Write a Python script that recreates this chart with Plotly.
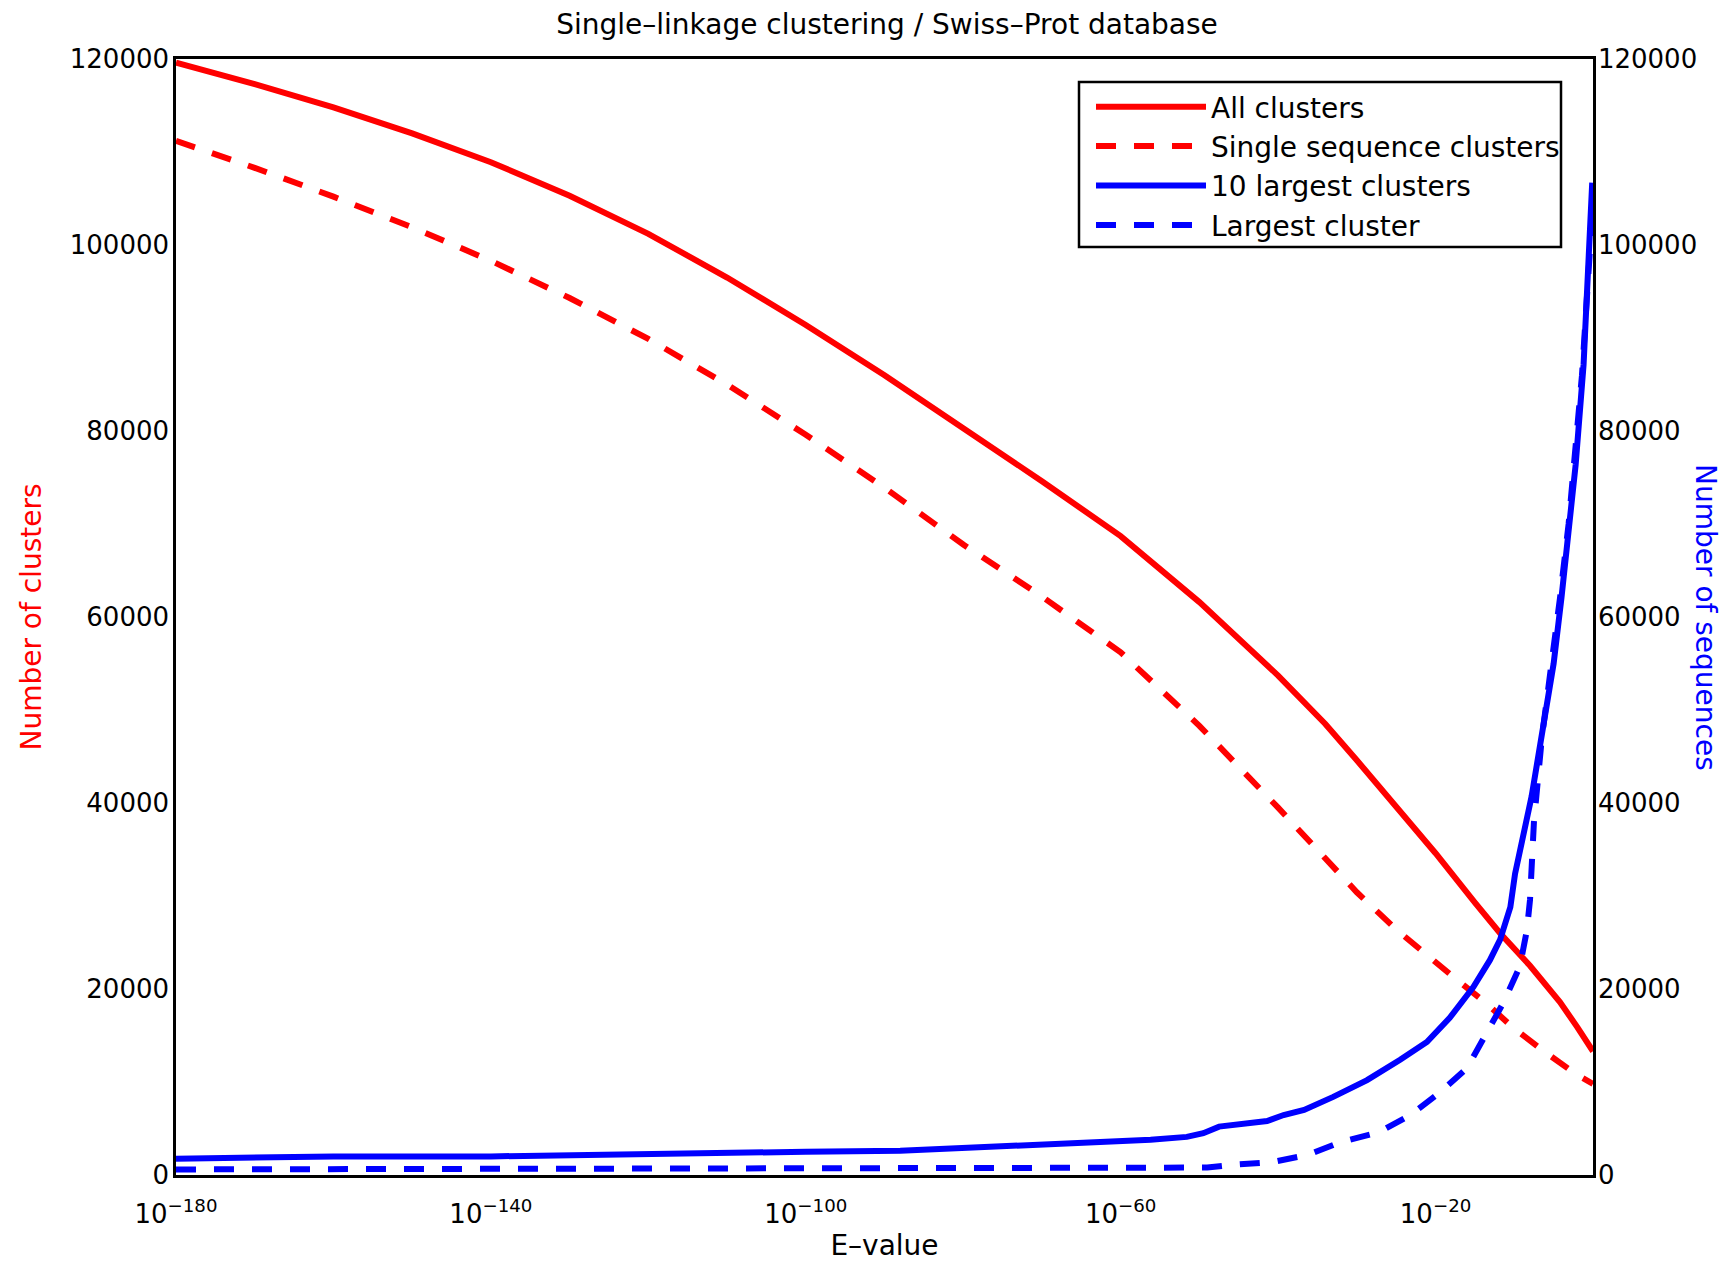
import plotly.graph_objects as go

# ---- data; E-values given as log10 exponents ----
# All clusters (left axis)
log_e_all = [-180, -170, -160, -150, -140, -130, -120, -110, -100, -90, -80, -70,
             -60, -50, -40, -34, -30, -20, -15, -11.8, -8, -4.2, -2.0, -0.4, 0]
all_clusters = [119600, 117300, 114800, 112000, 108900, 105300, 101200, 96500, 91400, 86000, 80300, 74600,
                68700, 61600, 53700, 48500, 44600, 34600, 29300, 26000, 22500, 18600, 15900, 13800, 13300]

# Single sequence clusters (left axis)
log_e_single = [-180, -170, -160, -150, -140, -130, -120, -110, -100, -90, -80, -70,
                -60, -50, -40, -34, -30, -25, -20.8, -17.3, -13.6, -10.1, -5.9, -2.0, 0]
single_clusters = [111200, 108300, 105200, 101900, 98300, 94300, 89900, 85000, 79600, 73900, 67800, 62200,
                   56200, 48300, 39500, 34000, 30400, 26400, 23400, 21000, 18500, 15800, 13100, 10750, 9800]

# 10 largest clusters (right axis)
log_e_top10 = [-180, -171.5, -160, -140, -127.5, -110, -100, -88, -76.8, -66.4,
               -56.2, -51.6, -49.5, -47.5, -44.8, -41.4, -39.3, -36.7, -33.0, -28.7,
               -24.5, -21.1, -18.2, -15.2, -13.1, -11.8, -10.5, -9.9, -7.8, -6.4,
               -5.0, -4.0, -2.9, -2.2, -1.2, -0.7, -0.1]
top10_sequences = [1750, 1900, 2000, 2000, 2200, 2400, 2500, 2600, 3000, 3400,
                   3800, 4100, 4500, 5200, 5400, 5800, 6450, 7000, 8400, 10200,
                   12400, 14300, 16900, 20200, 23100, 25300, 28800, 32400, 40700, 47900,
                   55000, 62100, 70500, 76400, 87100, 95500, 106700]

# Largest cluster (right axis)
log_e_largest = [-180, -131, -88, -49, -46, -40.7, -36.3, -32.0, -27.2, -23.2,
                 -19.4, -16.0, -13.5, -11.4, -9.3, -8.4, -8.0, -7.5, -6.5, -5.2,
                 -4.2, -3.1, -2.2, -1.4, -0.8, -0.2]
largest_sequences = [600, 650, 700, 800, 1080, 1400, 2150, 3550, 4600, 6450,
                     8900, 11500, 15300, 18500, 22400, 26300, 29600, 38000, 47000, 55000,
                     62000, 70000, 78000, 86000, 94000, 102000]

x_tick_exponents = [-180, -140, -100, -60, -20]
x_ticktext = ["10<sup>\u2212180</sup>", "10<sup>\u2212140</sup>", "10<sup>\u2212100</sup>",
              "10<sup>\u221260</sup>", "10<sup>\u221220</sup>"]
y_tickvals = [0, 20000, 40000, 60000, 80000, 100000, 120000]


def to_evalue(exps):
    return [10.0 ** e for e in exps]


RED = "#FF0000"
BLUE = "#0000FF"
DASH = "20px,18px"
LW = 6
FONT = "DejaVu Sans, Verdana, sans-serif"

# page body has an 8 px margin; the figure is sized so the plot box lands at
# x 176..1593, y 59..1175 of the 1734x1270 window
OFF = 8
W, H = 1734 - 2 * OFF, 1270 - 2 * OFF
ML, MR, MT, MB = 176 - OFF, W - (1593 - OFF), 59 - OFF, H - (1175 - OFF)
PX0, PX1, PY0, PY1 = 176, 1593, 59, 1175   # plot box in window pixels


def px_x(x):
    return (x - PX0) / (PX1 - PX0)


def px_y(y):
    return (PY1 - y) / (PY1 - PY0)


fig = go.Figure()
fig.add_trace(go.Scatter(x=to_evalue(log_e_all), y=all_clusters, name="All clusters", mode="lines",
                         line=dict(color=RED, width=LW)))
fig.add_trace(go.Scatter(x=to_evalue(log_e_single), y=single_clusters, name="Single sequence clusters",
                         mode="lines", line=dict(color=RED, width=LW, dash=DASH)))
fig.add_trace(go.Scatter(x=to_evalue(log_e_top10), y=top10_sequences, name="10 largest clusters",
                         mode="lines", line=dict(color=BLUE, width=LW), yaxis="y2"))
fig.add_trace(go.Scatter(x=to_evalue(log_e_largest), y=largest_sequences, name="Largest cluster",
                         mode="lines", line=dict(color=BLUE, width=LW, dash=DASH), yaxis="y2"))

axis_common = dict(showline=True, linecolor="black", linewidth=2.5, showgrid=False, zeroline=False,
                   ticks="", ticklen=0, tickfont=dict(family=FONT, size=26, color="black"))

fig.update_layout(
    width=W, height=H,
    margin=dict(l=ML, r=MR, t=MT, b=MB, autoexpand=False),
    plot_bgcolor="white", paper_bgcolor="white",
    font=dict(family=FONT, size=28, color="black"),
    title=dict(text="Single\u2013linkage clustering / Swiss\u2013Prot database",
               x=(887 - OFF) / W, xanchor="center", xref="container",
               y=1 - (24 - OFF) / H, yanchor="middle", yref="container",
               font=dict(family=FONT, size=28, color="black")),
    xaxis=dict(type="log", range=[-180, 0], tickvals=to_evalue(x_tick_exponents), ticktext=x_ticktext,
               mirror=True, ticklabelstandoff=14,
               title=dict(text="E\u2013value", font=dict(family=FONT, size=28, color="black"), standoff=21),
               **axis_common),
    yaxis=dict(range=[0, 120000], tickvals=y_tickvals, tickformat="d", mirror=True,
               ticklabelstandoff=-1,
               title=dict(text="Number of clusters", font=dict(family=FONT, size=28, color=RED), standoff=20),
               **axis_common),
    yaxis2=dict(range=[0, 120000], tickvals=y_tickvals, tickformat="d", overlaying="y", side="right",
                ticklabelstandoff=-3, **axis_common),
    legend=dict(x=px_x(1091), y=px_y(82), xanchor="left", yanchor="top",
                borderwidth=0, bgcolor="rgba(0,0,0,0)", itemwidth=110,
                font=dict(family=FONT, size=28, color="black"), tracegroupgap=0),
    showlegend=True,
    shapes=[dict(type="rect", xref="paper", yref="paper", layer="above",
                 x0=px_x(1079), x1=px_x(1561), y0=px_y(247), y1=px_y(82),
                 line=dict(color="black", width=2.5), fillcolor="white")],
    annotations=[dict(text="Number of sequences", textangle=90, xref="paper", yref="paper",
                      x=px_x(1706), y=0.5, xanchor="center", yanchor="middle",
                      showarrow=False, font=dict(family=FONT, size=28, color=BLUE))],
)

fig.write_html("out.html")
